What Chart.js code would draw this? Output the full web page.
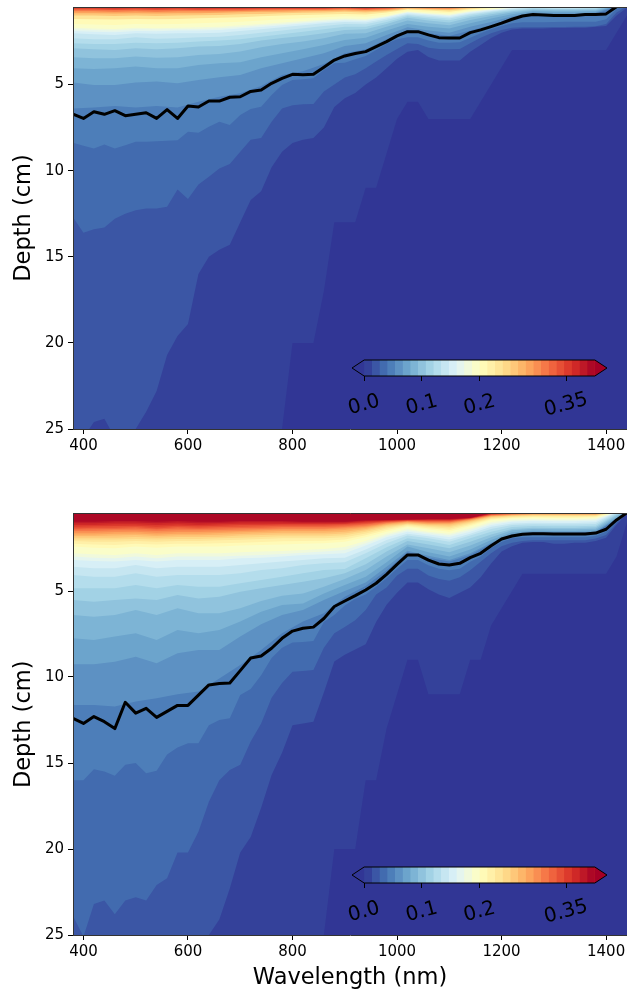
<!DOCTYPE html>
<html>
<head>
<meta charset="utf-8">
<title>Depth vs wavelength</title>
<script src="https://cdn.jsdelivr.net/npm/chart.js@4"></script>
<style>
  html, body { margin: 0; padding: 0; background: #fff; width: 627px; height: 990px; overflow: hidden; }
  canvas { position: absolute; display: block; }
</style>
</head>
<body>
<canvas id="panelTop" width="627" height="460" style="left:0;top:0;width:627px;height:460px"></canvas>
<canvas id="panelBottom" width="627" height="496" style="left:0;top:500px;width:627px;height:496px"></canvas>
<canvas id="barTop" width="287" height="85" style="left:340px;top:350px;width:287px;height:85px"></canvas>
<canvas id="barBottom" width="287" height="85" style="left:340px;top:857px;width:287px;height:85px"></canvas>
<script>
// axis ticks
const wavelengthTicks = [400, 600, 800, 1000, 1200, 1400];
const depthTicks = [5, 10, 15, 20, 25];
const colorbarTicks = [0, 0.1, 0.2, 0.35];
const colorbarLabels = ['0.0', '0.1', '0.2', '0.35'];

// wavelength grids (nm)
const stepWl = [380,400,420,440,460,480,500,520,540,560,580,600,620,640,660,680,700,720,740,760,780,800,820,840,860,880,900,920,940,960,980,1000,1020,1040,1060,1080,1100,1120,1140,1160,1180,1200,1220,1240,1260,1280,1300,1320,1340,1360,1380,1400,1420,1440];
const coarseWl = [380,420,460,500,540,580,620,660,700,740,780,820,860,900,940,980,1020,1060,1100,1140,1180,1220,1260,1300,1340,1380,1420,1440];

// black line, depth in cm
const topLine = [6.72,6.97,6.58,6.73,6.52,6.81,6.73,6.64,6.97,6.46,6.97,6.25,6.31,5.96,5.96,5.74,5.71,5.4,5.32,4.93,4.64,4.41,4.43,4.41,4.0,3.58,3.34,3.2,3.09,2.8,2.51,2.18,1.93,1.93,2.12,2.28,2.3,2.3,1.99,1.83,1.64,1.44,1.21,1.02,.94,.97,1.0,1.0,1.0,.94,.93,.9,.48,.3];
const bottomLine = [12.4,12.7,12.3,12.6,13.0,11.47,12.1,11.82,12.35,12.0,11.65,11.65,11.05,10.46,10.38,10.35,9.63,8.9,8.78,8.33,7.75,7.33,7.17,7.1,6.6,5.9,5.58,5.27,4.94,4.55,4.03,3.45,2.9,2.9,3.2,3.43,3.49,3.39,3.06,2.81,2.37,1.98,1.8,1.7,1.67,1.67,1.69,1.69,1.69,1.69,1.63,1.41,.87,.45];

// top panel, deep contours on stepWl
const top1 = [25.5,25.5,25.5,25.5,25.5,25.5,25.5,25.5,25.5,25.5,25.5,25.5,25.5,25.5,25.5,25.5,25.5,25.5,25.5,25.5,25,20,20,20,17,13,13,13,11,11,9,7,6,6,7,7,7,7,7,6,5,4,3,3,3,3,3,3,3,3,3,3,2,1];
const top2 = [25.5,25.5,24.6,24.4,25.5,25.5,25,24,22.8,20.7,19.6,18.9,16,15,14.6,14.3,13,11.7,11.2,9.8,8.9,8.4,8.2,8.1,7.5,6.3,5.8,5.5,5,4.6,4.05,3.5,3.1,3,3.4,3.6,3.6,3.6,3.1,2.7,2.3,2,1.8,1.75,1.75,1.75,1.72,1.72,1.7,1.7,1.65,1.6,1,.55];
const top3 = [12.7,13.6,13.4,13.3,12.8,12.5,12.3,12.2,12.2,12.1,11.1,11.65,10.8,10.35,9.87,9.62,8.9,8.2,8.1,7.16,6.4,6.2,6.15,6.13,5.4,5.0,4.6,4.4,4.06,3.67,3.28,2.94,2.6,2.65,2.86,2.94,2.95,2.94,2.6,2.28,2.02,1.83,1.7,1.68,1.67,1.67,1.66,1.66,1.65,1.64,1.62,1.48,.82,.45];
const top4 = [8.38,8.56,8.71,8.48,8.71,8.52,8.32,8.32,8.3,8.26,8.23,7.74,7.8,7.45,7.16,7.35,6.77,6.42,6.29,5.61,5.03,4.74,4.7,4.64,4.16,3.77,3.73,3.54,3.34,2.99,2.64,2.37,2.26,2.26,2.45,2.57,2.58,2.55,2.28,2.02,1.79,1.6,1.44,1.39,1.38,1.38,1.37,1.36,1.35,1.35,1.35,1.21,.63,.4];

// top panel, upper contours on coarseWl
const top5 = [6.39,6.33,6.25,6.33,6.25,6.33,6.0,5.71,5.51,5.09,4.45,4.23,3.81,3.19,2.96,2.37,1.83,2.02,2.18,1.87,1.54,1.15,.9,.98,.98,.9,.45,.38];
const top6 = [4.89,5.03,5.03,4.89,4.83,4.93,4.74,4.58,4.45,4.06,3.77,3.48,3.19,2.76,2.61,2.12,1.68,1.87,1.99,1.64,1.37,1.04,.82,.88,.88,.82,.44,.38];
const top7 = [4.06,4.1,4.06,3.96,4.06,4.06,3.87,3.77,3.71,3.42,3.19,2.96,2.7,2.41,2.28,1.87,1.48,1.64,1.75,1.44,1.17,.92,.75,.78,.78,.75,.42,.36];
const top8 = [3.42,3.48,3.48,3.38,3.44,3.42,3.28,3.23,3.09,2.84,2.65,2.51,2.32,2.06,2.02,1.64,1.29,1.44,1.56,1.25,1.02,.82,.69,.71,.71,.69,.4,.36];
const top9 = [2.9,2.96,3.0,2.9,2.96,2.9,2.8,2.76,2.65,2.45,2.3,2.18,2.02,1.83,1.79,1.48,1.13,1.29,1.4,1.11,.92,.75,.63,.65,.65,.63,.38,.34];
const top10 = [2.61,2.65,2.65,2.57,2.61,2.57,2.51,2.45,2.37,2.22,2.08,1.93,1.79,1.64,1.64,1.37,1.04,1.17,1.27,1.02,.84,.69,.59,.61,.61,.59,.36,.34];
const top11 = [2.32,2.37,2.37,2.26,2.34,2.32,2.26,2.22,2.12,1.99,1.87,1.73,1.6,1.48,1.5,1.25,.96,1.08,1.17,.94,.78,.63,.55,.57,.57,.55,.34,.32];
const top12 = [2.02,2.08,2.12,2.02,2.06,2.02,2.02,1.99,1.89,1.79,1.68,1.56,1.44,1.37,1.4,1.17,.9,1.0,1.09,.88,.73,.59,.53,.55,.55,.53,.32,.3];
const top13 = [1.89,1.93,1.97,1.89,1.91,1.87,1.87,1.83,1.75,1.66,1.56,1.46,1.37,1.29,1.31,1.09,.84,.94,1.02,.82,.69,.57,.51,.53,.53,.51,.3,.3];
const top14 = [1.79,1.83,1.87,1.79,1.81,1.79,1.77,1.73,1.66,1.56,1.48,1.39,1.29,1.23,1.25,1.06,.8,.9,.98,.78,.65,.55,.49,.51,.51,.49,.3,.3];
const top15 = [1.71,1.75,1.77,1.71,1.73,1.71,1.68,1.64,1.56,1.48,1.4,1.31,1.23,1.17,1.19,1.02,.78,.86,.94,.75,.63,.53,.49,.49,.49,.49,.3,.3];
const top16 = [1.48,1.52,1.54,1.48,1.5,1.48,1.44,1.4,1.35,1.29,1.21,1.15,1.09,1.04,1.06,.94,.73,.8,.86,.69,.59,.51,.47,.47,.47,.47,.3,.3];
const top18 = [1.19,1.21,1.23,1.19,1.21,1.19,1.15,1.13,1.09,1.04,1.0,.96,.94,.9,.94,.82,.65,.71,.77,.63,.55,.49,.47,.47,.47,.47,.3,.3];
const top20 = [1.0,1.0,1.02,1.0,1.02,1.0,.98,.96,.92,.9,.86,.84,.82,.78,.82,.75,.61,.65,.69,.59,.53,.47,.45,.45,.45,.45,.3,.3];
const top22 = [.86,.86,.88,.86,.88,.86,.86,.84,.8,.78,.77,.75,.73,.71,.75,.69,.57,.61,.63,.55,.51,.47,.45,.45,.45,.45,.3,.3];
const top24 = [.75,.75,.77,.75,.77,.75,.75,.75,.73,.71,.69,.67,.67,.63,.67,.63,.55,.57,.59,.53,.49,.45,.45,.45,.45,.45,.3,.3];
const top26 = [.65,.65,.67,.65,.67,.65,.67,.65,.65,.63,.61,.61,.61,.59,.63,.59,.53,.55,.55,.51,.47,.45,.45,.45,.45,.45,.3,.3];
const top28 = [.57,.57,.59,.57,.59,.57,.59,.59,.59,.57,.57,.57,.57,.55,.57,.55,.51,.53,.53,.49,.47,.45,.45,.45,.45,.45,.3,.3];
const top30 = [.5,.5,.51,.5,.51,.5,.51,.51,.51,.51,.51,.51,.51,.51,.53,.51,.49,.51,.51,.47,.45,.45,.45,.45,.45,.45,.3,.3];

// bottom panel, deep contours on stepWl
const bot1 = [25.5,25.5,25.5,25.5,25.5,25.5,25.5,25.5,25.5,25.5,25.5,25.5,25.5,25.5,25.5,25.5,25.5,25.5,25.5,25.5,25.5,25.5,25.5,25.5,25,20,20,20,16,16,13,11,9,9,11,11,11,11,9,9,7,6,5,4,4,4,4,4,4,4,4,4,3,1];
const bot2 = [25.5,25.5,25.5,25.5,25.5,25.5,25.5,25.5,25.5,25.5,25.5,25.5,25.5,25,24.1,22.3,20.2,19.3,17.6,15.7,14.4,12.8,12.7,12.6,10.9,9.1,8.7,8.4,8.1,6.8,5.8,5.1,4.5,4.5,4.9,5.2,5.4,5.1,4.8,4.2,3.4,2.7,2.4,2.2,2.15,2.15,2.25,2.25,2.2,2.2,2.1,1.9,1.15,.5];
const bot3 = [23.9,25.1,23.2,23.0,23.8,23.0,22.8,23.0,22.1,21.7,20.2,20.2,19.0,17.25,16.0,15.4,15.1,13.75,12.7,11.2,10.35,9.7,9.65,9.6,8.3,7.45,7.1,6.7,6.1,5.2,4.8,4.1,3.7,3.7,4.1,4.3,4.4,4.2,3.8,3.3,2.8,2.4,2.2,2.1,2.05,2.05,2.05,2.05,2.05,2.05,1.95,1.75,1.05,.5];
const bot4 = [16,16,15.37,15.5,15.74,15.1,15,15.6,15.45,14.5,14.1,13.85,13.85,12.8,12.5,12.4,11.05,10.7,9.9,8.9,8.3,8,7.97,7.9,6.8,6.4,5.85,5.45,5.2,4.75,4.26,3.7,3.2,3.2,3.5,3.7,3.8,3.7,3.3,3.0,2.5,2.15,1.94,1.88,1.88,1.88,1.88,1.88,1.88,1.88,1.8,1.55,.95,.45];

// bottom panel, upper contours on coarseWl
const bot5 = [11.63,11.63,11.72,11.43,11.24,11.0,10.85,10.08,9.3,8.43,7.46,6.78,6.3,5.33,4.71,3.8,2.75,3.06,3.29,2.91,2.25,1.72,1.59,1.61,1.61,1.57,.81,.39];
const bot6 = [9.26,9.26,9.11,8.82,9.2,8.62,8.43,8.43,7.65,6.94,6.4,6.1,5.52,5.0,4.5,3.59,2.66,2.95,3.2,2.81,2.19,1.69,1.57,1.59,1.59,1.55,.79,.39];
const bot7 = [7.75,7.85,7.65,7.46,7.85,7.27,7.46,7.27,6.78,6.2,5.81,5.72,5.14,4.65,4.17,3.33,2.42,2.75,3.0,2.58,2.03,1.59,1.49,1.51,1.51,1.47,.74,.38];
const bot8 = [6.4,6.49,6.4,6.1,6.4,6.0,6.3,6.3,6.0,5.58,5.27,5.14,4.75,4.3,3.78,3.0,2.29,2.52,2.75,2.36,1.88,1.47,1.4,1.41,1.41,1.38,.66,.37];
const bot9 = [5.52,5.62,5.52,5.43,5.52,5.23,5.43,5.33,5.04,4.84,4.65,4.46,4.26,3.97,3.45,2.71,2.09,2.29,2.52,2.13,1.71,1.4,1.32,1.34,1.34,1.3,.58,.36];
const bot10 = [4.84,4.84,4.84,4.65,4.84,4.65,4.75,4.75,4.55,4.36,4.17,3.97,3.78,3.72,3.1,2.46,1.94,2.09,2.33,1.94,1.55,1.28,1.22,1.24,1.24,1.2,.52,.35];
const bot11 = [4.07,4.17,4.17,3.97,4.17,4.07,4.07,4.07,3.97,3.78,3.68,3.49,3.39,3.33,2.81,2.23,1.78,1.94,2.13,1.78,1.4,1.16,1.12,1.14,1.14,1.1,.47,.34];
const bot12 = [3.59,3.68,3.68,3.49,3.68,3.59,3.59,3.59,3.49,3.39,3.29,3.2,3.1,3.06,2.58,2.03,1.67,1.82,2.0,1.67,1.26,1.07,1.03,1.05,1.05,1.01,.43,.33];
const bot13 = [3.2,3.26,3.29,3.2,3.29,3.2,3.2,3.2,3.1,3.06,3.0,2.91,2.87,2.81,2.36,1.88,1.55,1.71,1.86,1.55,1.16,.97,.93,.95,.95,.91,.42,.33];
const bot14 = [3.0,3.06,3.1,3.0,3.1,3.0,3.0,3.0,2.95,2.91,2.85,2.77,2.71,2.62,2.23,1.78,1.47,1.63,1.76,1.45,1.07,.91,.87,.89,.89,.85,.41,.32];
const bot15 = [2.81,2.87,2.91,2.81,2.91,2.81,2.81,2.81,2.75,2.71,2.67,2.62,2.56,2.44,2.09,1.67,1.4,1.55,1.67,1.36,.99,.85,.81,.83,.83,.79,.4,.32];
const bot16 = [2.42,2.48,2.52,2.42,2.48,2.42,2.42,2.42,2.36,2.33,2.29,2.25,2.23,2.13,1.88,1.55,1.28,1.43,1.55,1.24,.89,.78,.74,.76,.76,.72,.39,.31];
const bot17 = [2.25,2.3,2.32,2.25,2.3,2.25,2.25,2.23,2.19,2.15,2.11,2.09,2.08,2.0,1.76,1.45,1.22,1.35,1.45,1.16,.83,.74,.7,.71,.71,.68,.38,.3];
const bot18 = [2.09,2.13,2.13,2.09,2.13,2.09,2.09,2.05,2.02,1.98,1.94,1.94,1.94,1.88,1.65,1.36,1.16,1.28,1.36,1.09,.78,.7,.66,.66,.66,.64,.38,.3];
const bot19 = [2.0,2.01,2.01,1.97,2.01,1.97,1.97,1.94,1.9,1.86,1.82,1.82,1.82,1.76,1.56,1.29,1.12,1.22,1.28,1.03,.74,.66,.62,.62,.62,.61,.37,.3];
const bot20 = [1.9,1.9,1.9,1.86,1.9,1.86,1.86,1.84,1.78,1.74,1.71,1.71,1.71,1.65,1.47,1.22,1.09,1.16,1.2,.97,.7,.62,.58,.58,.58,.58,.37,.3];
const bot21 = [1.8,1.8,1.78,1.75,1.8,1.76,1.76,1.73,1.68,1.64,1.61,1.61,1.61,1.55,1.39,1.17,1.05,1.12,1.14,.93,.67,.6,.56,.56,.56,.56,.36,.3];
const bot22 = [1.71,1.71,1.67,1.65,1.71,1.67,1.67,1.63,1.59,1.55,1.51,1.51,1.51,1.45,1.32,1.12,1.01,1.09,1.09,.89,.64,.58,.54,.54,.54,.54,.36,.3];
const bot23 = [1.61,1.61,1.57,1.56,1.61,1.57,1.57,1.54,1.51,1.47,1.43,1.43,1.43,1.37,1.26,1.08,.98,1.05,1.05,.86,.62,.56,.52,.52,.52,.52,.35,.3];
const bot24 = [1.51,1.51,1.47,1.47,1.51,1.47,1.47,1.45,1.43,1.4,1.36,1.36,1.36,1.3,1.2,1.05,.95,1.01,1.01,.83,.6,.54,.5,.5,.5,.5,.35,.3];
const bot25 = [1.43,1.41,1.39,1.37,1.43,1.37,1.39,1.36,1.34,1.32,1.28,1.28,1.28,1.23,1.14,1.01,.93,.97,.97,.81,.58,.52,.49,.49,.49,.49,.35,.3];
const bot26 = [1.36,1.32,1.32,1.28,1.36,1.28,1.32,1.28,1.26,1.24,1.2,1.2,1.2,1.16,1.09,.97,.91,.93,.93,.79,.56,.5,.48,.48,.48,.48,.35,.3];
const bot27 = [1.26,1.24,1.22,1.2,1.26,1.2,1.24,1.2,1.17,1.16,1.14,1.14,1.14,1.11,1.03,.94,.89,.9,.9,.78,.54,.49,.47,.47,.47,.47,.34,.3];
const bot28 = [1.16,1.16,1.12,1.12,1.16,1.12,1.16,1.12,1.09,1.09,1.09,1.09,1.09,1.07,.97,.91,.87,.87,.87,.76,.52,.48,.46,.46,.46,.46,.34,.3];
const bot29 = [1.06,1.06,1.02,1.02,1.06,1.02,1.06,1.04,1.01,1.01,1.01,1.03,1.03,1.02,.93,.89,.86,.84,.84,.75,.5,.47,.46,.46,.46,.46,.34,.3];
const bot30 = [.97,.97,.93,.93,.97,.93,.97,.97,.93,.93,.93,.97,.97,.97,.89,.87,.85,.81,.81,.74,.48,.46,.45,.45,.45,.45,.34,.3];

// RdYlBu reversed
const colorStops = ['#313695','#4575b4','#74add1','#abd9e9','#e0f3f8','#ffffbf','#fee090','#fdae61','#f46d43','#d73027','#a50026'];

function rampColor(t) {
    var pos = Math.min(t, 0.9999) * (colorStops.length - 1);
    var i = Math.floor(pos);
    var f = pos - i;
    var a = colorStops[i], b = colorStops[i + 1];
    var out = [1, 3, 5].map(function(s) {
        var ca = parseInt(a.substr(s, 2), 16);
        var cb = parseInt(b.substr(s, 2), 16);
        return Math.round(ca + (cb - ca) * f);
    });
    return 'rgb(' + out.join(',') + ')';
}

function bandColor(level) {
    return rampColor((level - 0.5) / 30);
}

function zip(xs, ys) {
    return xs.map(function(x, i) { return {x: x, y: ys[i]}; });
}

function bandDataset(level, xs, ys) {
    return {
        data: zip(xs, ys),
        fill: 'end',
        backgroundColor: bandColor(level),
        borderWidth: 0,
        pointRadius: 0,
        order: -level
    };
}

function panelDatasets(lineDepths, deep, upper) {
    var sets = [{
        data: zip(stepWl, lineDepths),
        borderColor: '#000',
        borderWidth: 3,
        borderJoinStyle: 'round',
        pointRadius: 0,
        fill: false,
        order: -100
    }];
    // whole axes start in the lowest colour
    sets.push({
        data: zip([380, 1440], [25.5, 25.5]),
        fill: 'end',
        backgroundColor: colorStops[0],
        borderWidth: 0,
        pointRadius: 0,
        order: 0
    });
    deep.forEach(function(row) { sets.push(bandDataset(row[0], stepWl, row[1])); });
    upper.forEach(function(row) { sets.push(bandDataset(row[0], coarseWl, row[1])); });
    return sets;
}

function panelOptions(topPad, xAxisHeight, xTitle) {
    return {
        responsive: false,
        animation: false,
        events: [],
        layout: {padding: {top: topPad, right: 0, bottom: 0, left: 0}},
        plugins: {legend: {display: false}, tooltip: {enabled: false}},
        scales: {
            x: {
                type: 'linear',
                min: 380,
                max: 1440,
                afterBuildTicks: function(s) { s.ticks = wavelengthTicks.map(function(v) { return {value: v}; }); },
                afterFit: function(s) { s.height = xAxisHeight; s.paddingRight = 0; s.paddingLeft = 0; },
                grid: {drawOnChartArea: false, drawTicks: true, tickLength: 5, tickColor: '#000'},
                border: {display: true, color: '#333', width: 1, z: 1},
                ticks: {
                    autoSkip: false, maxRotation: 0, color: '#000', padding: 3,
                    font: {family: 'DejaVu Sans', size: 15},
                    callback: function(v) { return String(v); }
                },
                title: {
                    display: !!xTitle, text: xTitle || '', color: '#000',
                    font: {family: 'DejaVu Sans', size: 22.5},
                    padding: {top: 0, bottom: 4}
                }
            },
            xTop: {
                type: 'linear',
                position: 'top',
                min: 380,
                max: 1440,
                afterFit: function(s) { s.height = 0; },
                grid: {display: false},
                border: {display: true, color: '#333', width: 1, z: 1},
                ticks: {display: false}
            },
            y: {
                type: 'linear',
                reverse: true,
                min: 0.5,
                max: 25,
                afterBuildTicks: function(s) { s.ticks = depthTicks.map(function(v) { return {value: v}; }); },
                afterFit: function(s) { s.width = 73; s.paddingTop = 0; s.paddingBottom = 0; },
                grid: {drawOnChartArea: false, drawTicks: true, tickLength: 5, tickColor: '#000'},
                border: {display: true, color: '#333', width: 1, z: 1},
                ticks: {
                    autoSkip: false, color: '#000', padding: 4,
                    font: {family: 'DejaVu Sans', size: 15}
                },
                title: {
                    display: true, text: 'Depth (cm)', color: '#000',
                    font: {family: 'DejaVu Sans', size: 22.5},
                    padding: {top: 11, bottom: 0}
                }
            }
        }
    };
}

new Chart(document.getElementById('panelTop'), {
    type: 'line',
    data: {datasets: panelDatasets(topLine,
        [[1, top1], [2, top2], [3, top3], [4, top4]],
        [[5, top5], [6, top6], [7, top7], [8, top8], [9, top9], [10, top10], [11, top11], [12, top12], [13, top13], [14, top14], [15, top15], [16, top16], [18, top18], [20, top20], [22, top22], [24, top24], [26, top26], [28, top28], [30, top30]])},
    options: panelOptions(7, 31, '')
});

new Chart(document.getElementById('panelBottom'), {
    type: 'line',
    data: {datasets: panelDatasets(bottomLine,
        [[1, bot1], [2, bot2], [3, bot3], [4, bot4]],
        [[5, bot5], [6, bot6], [7, bot7], [8, bot8], [9, bot9], [10, bot10], [11, bot11], [12, bot12], [13, bot13], [14, bot14], [15, bot15], [16, bot16], [17, bot17], [18, bot18], [19, bot19], [20, bot20], [21, bot21], [22, bot22], [23, bot23], [24, bot24], [25, bot25], [26, bot26], [27, bot27], [28, bot28], [29, bot29], [30, bot30]])},
    options: panelOptions(13.6, 61, 'Wavelength (nm)')
});

// colorbar tick labels sit centred on their ticks, rotated 15 degrees
var rotatedLabels = {
    id: 'rotatedLabels',
    afterDraw: function(chart) {
        var ctx = chart.ctx;
        var sx = chart.scales.x;
        ctx.save();
        ctx.fillStyle = '#000';
        ctx.font = '20px "DejaVu Sans"';
        ctx.textAlign = 'center';
        ctx.textBaseline = 'middle';
        colorbarTicks.forEach(function(v, i) {
            ctx.save();
            ctx.translate(sx.getPixelForValue(v), chart.chartArea.bottom + 29);
            ctx.rotate(-15 * Math.PI / 180);
            ctx.fillText(colorbarLabels[i], 0, 0);
            ctx.restore();
        });
        ctx.restore();
    }
};

function colorbarDatasets() {
    var sets = [];
    var lo = 0, hi = 0.4, n = 30;
    for (var i = 0; i < n; i++) {
        sets.push({
            data: [{x: lo + (hi - lo) * i / n, y: 1}, {x: hi, y: 1}],
            fill: {value: 0},
            backgroundColor: bandColor(i + 1),
            borderWidth: 0,
            pointRadius: 0,
            order: -i
        });
    }
    [[-0.021, 0, colorStops[0]], [0.421, 0.4, colorStops[10]]].forEach(function(end) {
        [1, 0].forEach(function(edge) {
            sets.push({
                data: [{x: Math.min(end[0], end[1]), y: end[0] < 0 ? 0.5 : edge}, {x: Math.max(end[0], end[1]), y: end[0] < 0 ? edge : 0.5}],
                fill: {value: 0.5},
                backgroundColor: end[2],
                borderWidth: 0,
                pointRadius: 0,
                order: -40
            });
        });
    });
    sets.push({
        data: [{x: -0.021, y: 0.5}, {x: 0, y: 1}, {x: 0.4, y: 1}, {x: 0.421, y: 0.5}, {x: 0.4, y: 0}, {x: 0, y: 0}, {x: -0.021, y: 0.5}],
        borderColor: '#000',
        borderWidth: 1,
        pointRadius: 0,
        fill: false,
        clip: false,
        order: -50
    });
    return sets;
}

function makeColorbar(id, top) {
    new Chart(document.getElementById(id), {
        type: 'line',
        data: {datasets: colorbarDatasets()},
        plugins: [rotatedLabels],
        options: {
            responsive: false,
            animation: false,
            events: [],
            layout: {padding: {top: top, left: 12, right: 20, bottom: 0}},
            plugins: {legend: {display: false}, tooltip: {enabled: false}},
            scales: {
                x: {
                    type: 'linear',
                    min: -0.021,
                    max: 0.421,
                    afterBuildTicks: function(s) { s.ticks = colorbarTicks.map(function(v) { return {value: v}; }); },
                    afterFit: function(s) { s.height = 85 - top - 16; s.paddingLeft = 0; s.paddingRight = 0; },
                    grid: {drawOnChartArea: false, drawTicks: true, tickLength: 5, tickColor: '#000'},
                    border: {display: false},
                    ticks: {display: false}
                },
                y: {type: 'linear', min: 0, max: 1, display: false}
            }
        }
    });
}

makeColorbar('barTop', 10);
makeColorbar('barBottom', 10);
</script>
</body>
</html>
